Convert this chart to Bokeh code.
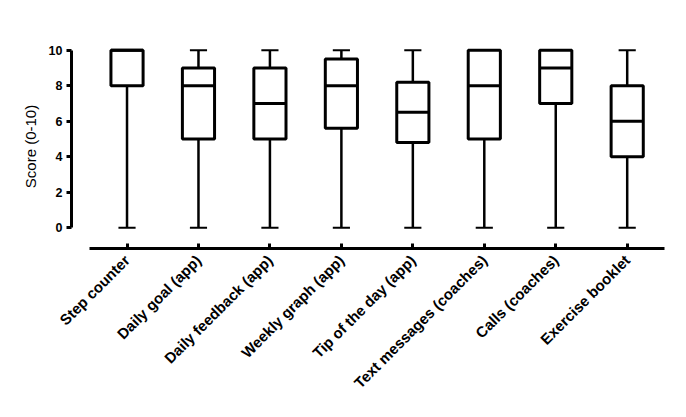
import math
from bokeh.plotting import figure
from bokeh.models import FixedTicker, ColumnDataSource
from bokeh.embed import file_html
from bokeh.resources import INLINE

categories = ["Step counter", "Daily goal (app)", "Daily feedback (app)",
              "Weekly graph (app)", "Tip of the day (app)",
              "Text messages (coaches)", "Calls (coaches)", "Exercise booklet"]
positions = [1, 2, 3, 4, 5, 6, 7, 8]
mins = [0, 0, 0, 0, 0, 0, 0, 0]
q1 = [8, 5, 5, 5.6, 4.8, 5, 7, 4]
medians = [10, 8, 7, 8, 6.5, 8, 9, 6]
q3 = [10, 9, 9, 9.5, 8.2, 10, 10, 8]
maxs = [10, 10, 10, 10, 10, 10, 10, 10]
y_ticks = [0, 2, 4, 6, 8, 10]

FONT = "Liberation Sans"
BOX_W = 0.45
CAP_W = 0.24

src = ColumnDataSource(dict(
    x=positions, mn=mins, q1=q1, med=medians, q3=q3, mx=maxs,
    left=[p - BOX_W / 2 for p in positions], right=[p + BOX_W / 2 for p in positions],
    cl=[p - CAP_W / 2 for p in positions], cr=[p + CAP_W / 2 for p in positions],
))

p = figure(width=677, height=405, x_range=(0.223, 8.55), y_range=(-1.17, 10.32),
           output_backend="svg", toolbar_location=None,
           min_border_left=71, min_border_right=11, min_border_top=44, min_border_bottom=157)
p.outline_line_color = None
p.xgrid.visible = False
p.ygrid.visible = False
p.background_fill_color = "white"
p.border_fill_color = "white"

# whiskers
p.segment(x0="x", y0="q3", x1="x", y1="mx", source=src, line_color="black", line_width=2.5)
p.segment(x0="x", y0="mn", x1="x", y1="q1", source=src, line_color="black", line_width=2.5)
# caps
p.segment(x0="cl", y0="mx", x1="cr", y1="mx", source=src, line_color="black", line_width=2)
p.segment(x0="cl", y0="mn", x1="cr", y1="mn", source=src, line_color="black", line_width=2)
# boxes
p.quad(left="left", right="right", bottom="q1", top="q3", source=src,
       fill_color="white", line_color="black", line_width=3)
# medians
p.segment(x0="left", y0="med", x1="right", y1="med", source=src, line_color="black", line_width=3)

# y axis
ya = p.yaxis[0]
ya.ticker = FixedTicker(ticks=y_ticks)
ya.bounds = (0, 10)
ya.axis_line_width = 3
ya.axis_line_color = "black"
ya.major_tick_line_width = 3
ya.major_tick_line_color = "black"
ya.major_tick_out = 5
ya.major_tick_in = 0
ya.minor_tick_line_color = None
ya.major_label_text_font = FONT
ya.major_label_text_font_style = "bold"
ya.major_label_text_font_size = "12.5px"
ya.major_label_text_color = "black"
ya.major_label_standoff = 4
ya.axis_label = "Score (0-10)"
ya.axis_label_text_font = FONT
ya.axis_label_text_font_style = "normal"
ya.axis_label_text_font_size = "15px"
ya.axis_label_text_color = "black"
ya.axis_label_standoff = 7

# x axis
xa = p.xaxis[0]
xa.ticker = FixedTicker(ticks=positions)
xa.major_label_overrides = {pos: name for pos, name in zip(positions, categories)}
xa.bounds = (0.475, 8.52)
xa.axis_line_width = 3
xa.axis_line_color = "black"
xa.major_tick_line_width = 3
xa.major_tick_line_color = "black"
xa.major_tick_in = 5
xa.major_tick_out = 0
xa.minor_tick_line_color = None
xa.major_label_orientation = math.pi / 4
xa.major_label_text_font = FONT
xa.major_label_text_font_style = "bold"
xa.major_label_text_font_size = "15px"
xa.major_label_text_color = "black"
xa.major_label_standoff = 9

open("out.html", "w").write(file_html(p, INLINE))
